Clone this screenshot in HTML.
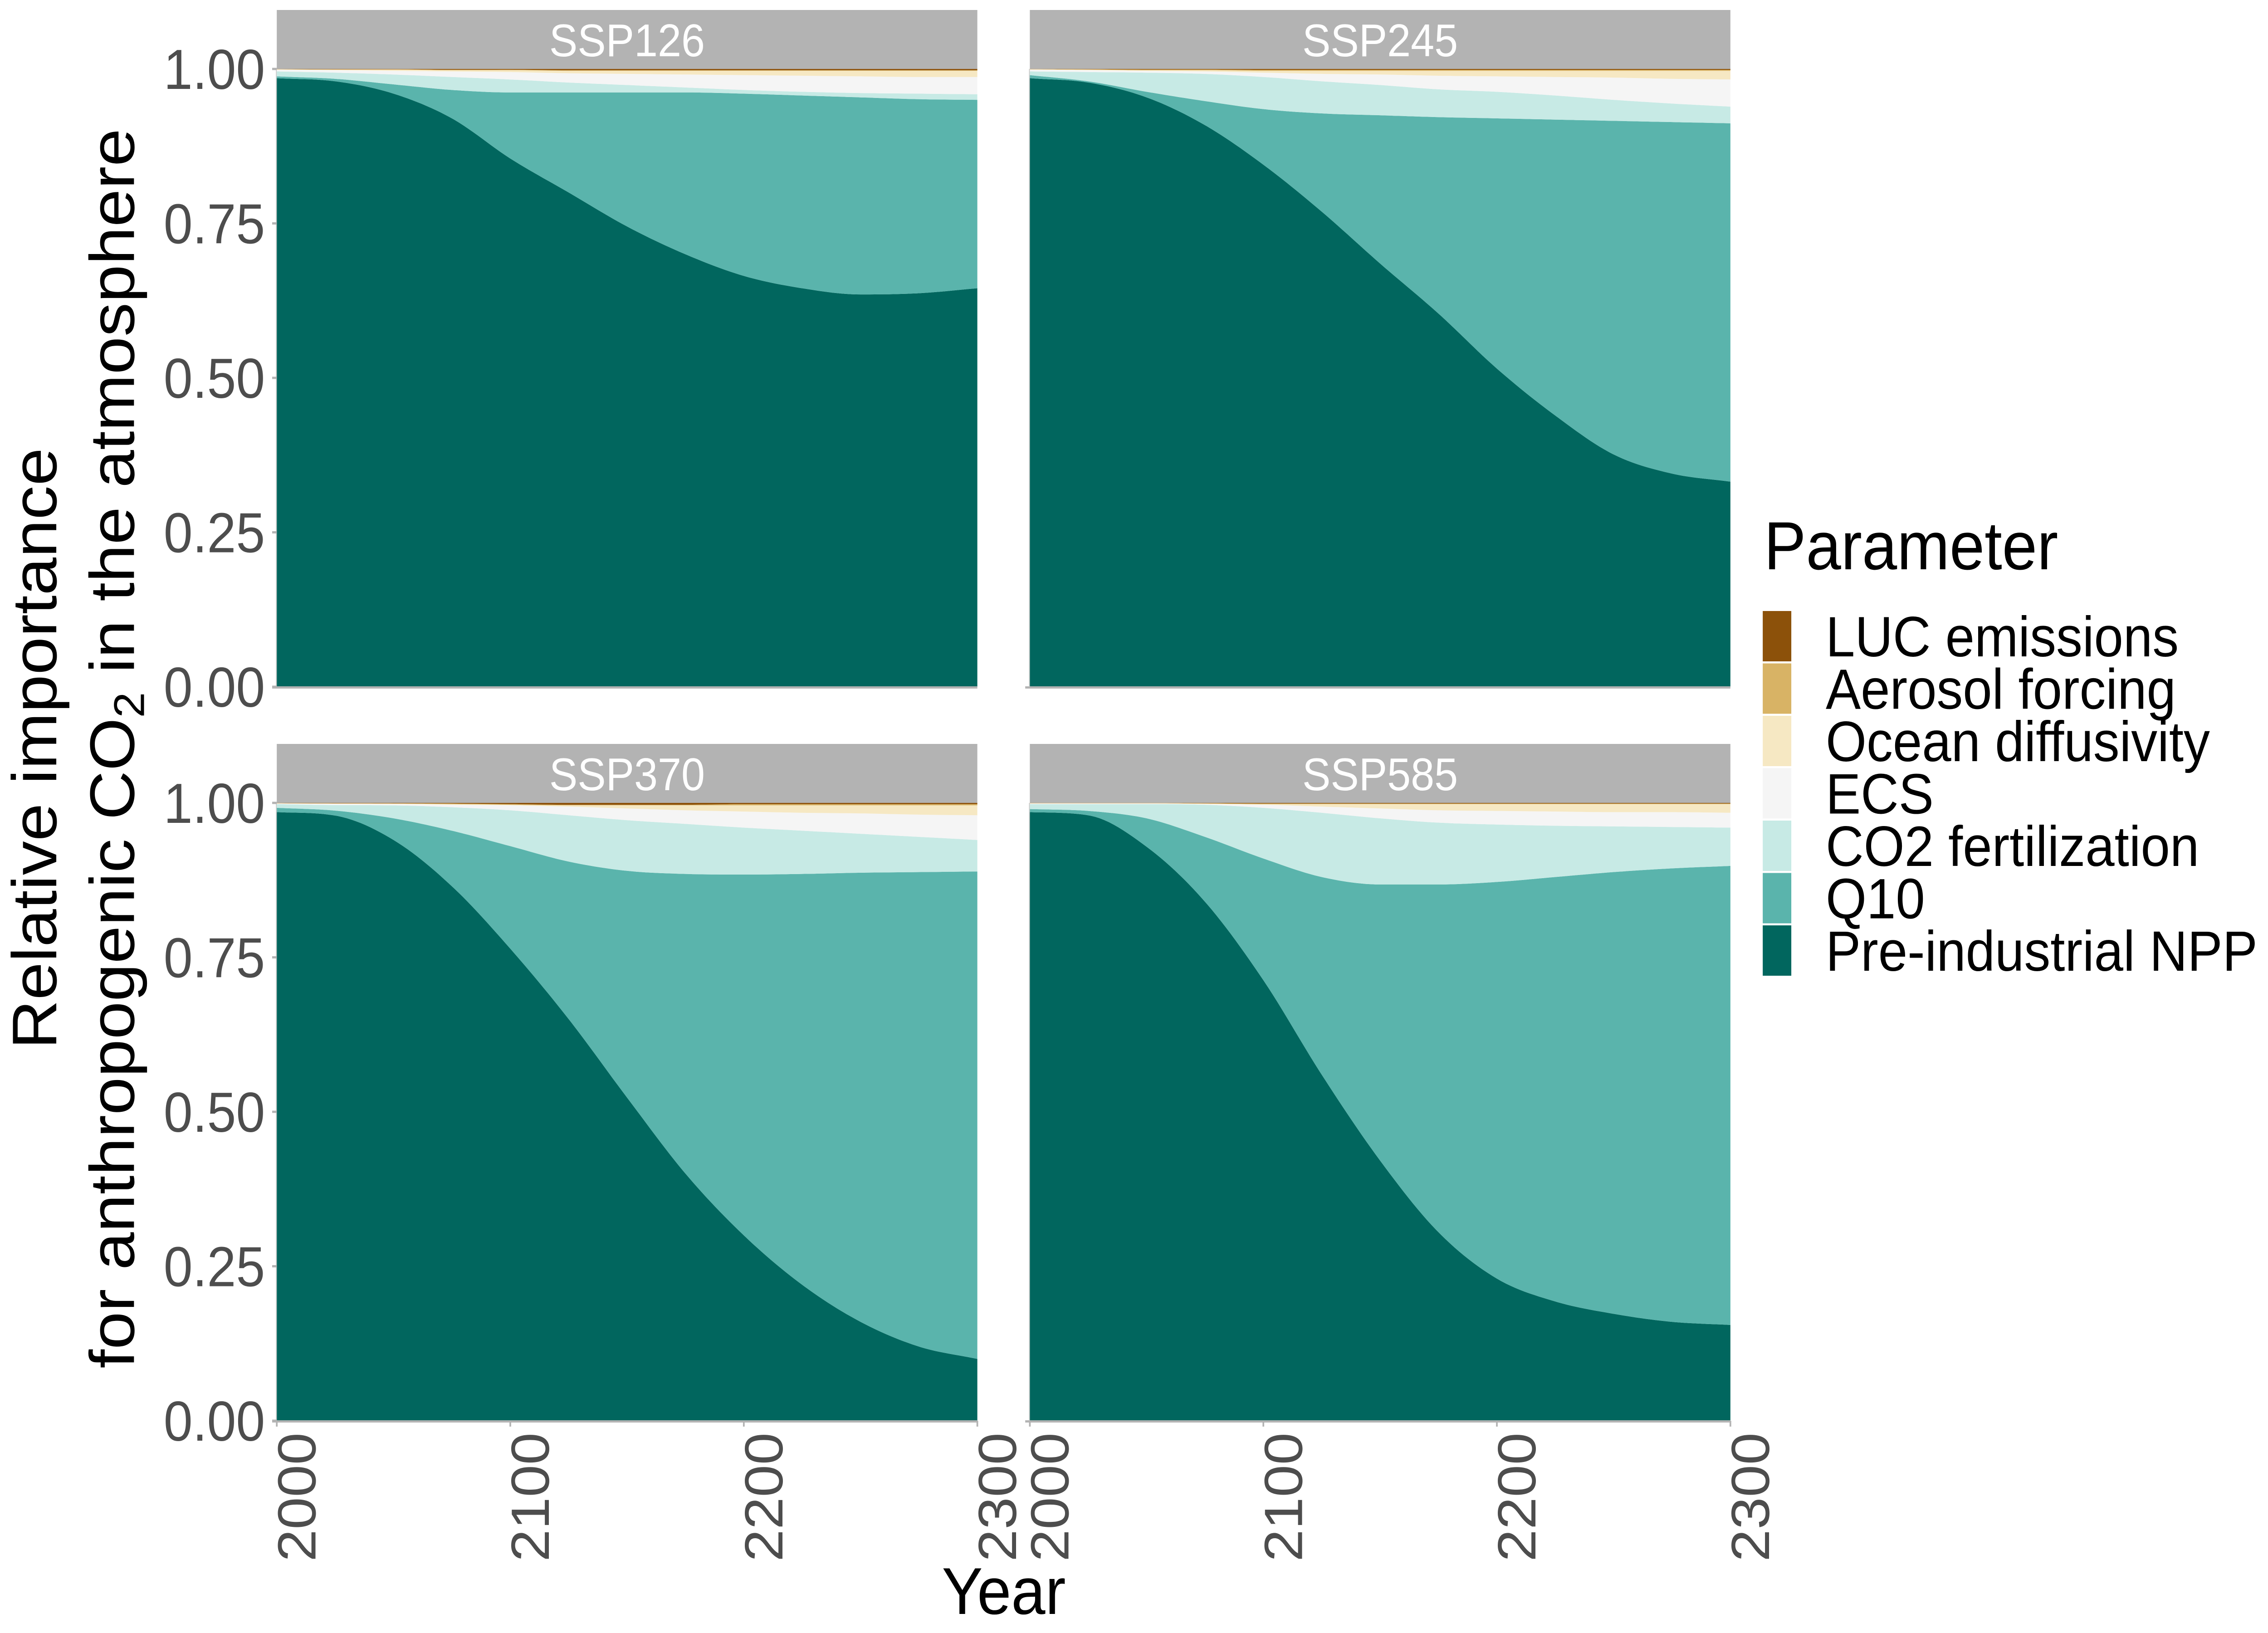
<!DOCTYPE html>
<html><head><meta charset="utf-8"><style>
html,body{margin:0;padding:0;background:#fff;overflow:hidden;width:100%;height:100%;}
svg{display:block;width:100vw;height:100vh;font-family:"Liberation Sans",Arial,sans-serif;}
</style></head><body>
<svg id="chart" xmlns="http://www.w3.org/2000/svg" viewBox="0 0 5400 3600" preserveAspectRatio="none">
<rect width="5400" height="3600" fill="#fff"/>
<g id="panels"></g>
<g transform="translate(134,1650) rotate(-90)" font-size="150" fill="#000" text-anchor="middle">
<text x="0" y="0">Relative importance</text>
<text x="0" y="185">for anthropogenic CO<tspan font-size="102" dy="24">2</tspan><tspan dy="-24"> in the atmosphere</tspan></text>
</g>
<text x="2390" y="3558" font-size="146" text-anchor="middle" fill="#000">Year</text>
<g id="legend">
<text x="4200" y="1255" font-size="150" fill="#000">Parameter</text>
</g>
</svg>
<script>
const years = [2000,2025,2050,2075,2100,2125,2150,2175,2200,2225,2250,2275,2300];
const scenarios = ['SSP126','SSP245','SSP370','SSP585'];
const params = ['Pre-industrial NPP','Q10','CO2 fertilization','ECS','Ocean diffusivity','Aerosol forcing','LUC emissions'];
const colors = ['#01665e','#5ab4ac','#c7eae5','#f5f5f5','#f6e8c3','#d8b365','#8c510a'];
const yTicks = [0,0.25,0.5,0.75,1];
const yTickLabels = ['0.00','0.25','0.50','0.75','1.00'];
const xTicks = [2000,2100,2200,2300];

// shares per parameter (bottom to top), per scenario
const ssp126_npp = [.985,.98,.96,.92,.855,.80,.745,.70,.665,.645,.635,.637,.645];
const ssp126_q10 = [.003,.004,.015,.046,.107,.162,.217,.262,.295,.312,.319,.314,.305];
const ssp126_co2 = [.008,.010,.016,.021,.021,.016,.012,.008,.006,.006,.007,.009,.009];
const ssp126_ecs = [.003,.004,.006,.009,.012,.015,.018,.021,.024,.026,.027,.027,.028];
const ssp126_ocean = [.0005,.001,.002,.002,.003,.004,.005,.006,.007,.008,.009,.010,.010];
const ssp126_aer = [.0003,.0004,.0005,.0007,.0008,.001,.001,.001,.001,.001,.001,.001,.001];
const ssp126_luc = [.0002,.0006,.0005,.0013,.0012,.002,.002,.002,.002,.002,.002,.002,.002];

const ssp245_npp = [.985,.978,.954,.909,.845,.769,.685,.604,.515,.439,.376,.345,.332];
const ssp245_q10 = [.005,.002,.009,.039,.09,.159,.24,.318,.405,.479,.54,.569,.58];
const ssp245_co2 = [.006,.015,.031,.044,.052,.052,.049,.045,.043,.039,.034,.030,.027];
const ssp245_ecs = [.003,.003,.003,.004,.007,.012,.017,.022,.025,.030,.036,.040,.044];
const ssp245_ocean = [.0005,.001,.001,.002,.003,.005,.006,.008,.009,.010,.011,.013,.014];
const ssp245_aer = [.0003,.0005,.001,.001,.0015,.0015,.0015,.0015,.0015,.0015,.0015,.0015,.0015];
const ssp245_luc = [.0002,.0005,.001,.001,.0015,.0015,.0015,.0015,.0015,.0015,.0015,.0015,.0015];

const ssp370_npp = [.985,.98,.94,.865,.764,.65,.523,.40,.30,.22,.16,.12,.10];
const ssp370_q10 = [.007,.008,.035,.09,.166,.255,.367,.485,.584,.665,.727,.768,.789];
const ssp370_co2 = [.006,.009,.021,.038,.058,.075,.082,.081,.076,.070,.063,.057,.051];
const ssp370_ecs = [.001,.002,.002,.004,.008,.014,.019,.022,.026,.029,.033,.036,.04];
const ssp370_ocean = [.0005,.0005,.001,.001,.001,.002,.005,.008,.010,.012,.013,.015,.016];
const ssp370_aer = [.0002,.0005,.0003,.001,.001,.001,.001,.001,.002,.002,.002,.002,.002];
const ssp370_luc = [.0003,.0005,.0007,.001,.002,.003,.003,.003,.002,.002,.002,.002,.002];

const ssp585_npp = [.985,.98,.929,.84,.713,.56,.421,.305,.23,.193,.173,.16,.155];
const ssp585_q10 = [.005,.007,.046,.105,.197,.32,.447,.563,.642,.687,.715,.734,.743];
const ssp585_co2 = [.008,.011,.023,.052,.082,.104,.107,.10,.093,.083,.074,.067,.062];
const ssp585_ecs = [.001,.001,.001,.001,.005,.01,.016,.02,.022,.023,.023,.024,.024];
const ssp585_ocean = [.0005,.0005,.0005,.001,.001,.004,.007,.010,.011,.012,.013,.013,.014];
const ssp585_aer = [.0003,.0003,.0003,.0005,.001,.001,.001,.001,.001,.001,.001,.001,.001];
const ssp585_luc = [.0002,.0002,.0002,.0005,.001,.001,.001,.001,.001,.001,.001,.001,.001];

const seriesByScenario = [
  [ssp126_npp,ssp126_q10,ssp126_co2,ssp126_ecs,ssp126_ocean,ssp126_aer,ssp126_luc],
  [ssp245_npp,ssp245_q10,ssp245_co2,ssp245_ecs,ssp245_ocean,ssp245_aer,ssp245_luc],
  [ssp370_npp,ssp370_q10,ssp370_co2,ssp370_ecs,ssp370_ocean,ssp370_aer,ssp370_luc],
  [ssp585_npp,ssp585_q10,ssp585_co2,ssp585_ecs,ssp585_ocean,ssp585_aer,ssp585_luc]
];

const NS = 'http://www.w3.org/2000/svg';
const layout = [
  {x0:659,x1:2327,y0:152,y1:1514,left:true,bottom:false},
  {x0:2452,x1:4120,y0:152,y1:1514,left:false,bottom:false},
  {x0:659,x1:2327,y0:1770,y1:3132,left:true,bottom:true},
  {x0:2452,x1:4120,y0:1770,y1:3132,left:false,bottom:true}
];
function mk(tag, attrs, parent){const e=document.createElementNS(NS,tag);for(const k in attrs)e.setAttribute(k,attrs[k]);parent.appendChild(e);return e;}

function monotone(xs, ys){
  const n=xs.length, d=[], m=new Array(n);
  for(let i=0;i<n-1;i++) d.push((ys[i+1]-ys[i])/(xs[i+1]-xs[i]));
  m[0]=d[0]; m[n-1]=d[n-2];
  for(let i=1;i<n-1;i++){ m[i] = (d[i-1]*d[i]<=0)?0:(d[i-1]+d[i])/2; }
  for(let i=0;i<n-1;i++){
    if(d[i]===0){m[i]=0;m[i+1]=0;continue;}
    const a=m[i]/d[i], b=m[i+1]/d[i], s=a*a+b*b;
    if(s>9){const t=3/Math.sqrt(s); m[i]=t*a*d[i]; m[i+1]=t*b*d[i];}
  }
  return function(x){
    let i=0; while(i<n-2 && x>xs[i+1]) i++;
    const h=xs[i+1]-xs[i], t=(x-xs[i])/h, t2=t*t, t3=t2*t;
    return (2*t3-3*t2+1)*ys[i]+(t3-2*t2+t)*h*m[i]+(-2*t3+3*t2)*ys[i+1]+(t3-t2)*h*m[i+1];
  };
}

const panelsG = document.getElementById('panels');
scenarios.forEach((name, si) => {
  const L = layout[si];
  const xScale = v => L.x0 + (v-2000)/300*(L.x1-L.x0);
  const yScale = v => L.y1 - v*(L.y1-L.y0);
  const g = mk('g',{},panelsG);
  
  
  const series = seriesByScenario[si];
  const totals = years.map((_,j)=>series.reduce((s,a)=>s+a[j],0));
  const cum = [years.map(()=>0)];
  series.forEach((arr,k)=>{ cum.push(years.map((_,j)=>cum[k][j]+arr[j]/totals[j])); });
  const fns = cum.map(c=>monotone(years,c));
  const samples=[]; for(let yr=2000; yr<=2300; yr+=2) samples.push(yr);
  series.forEach((arr,k)=>{
    const lo=fns[k], hi=fns[k+1];
    let d='';
    samples.forEach((yr,i)=>{ d += (i?'L':'M') + xScale(yr).toFixed(1)+','+yScale(Math.min(1,hi(yr))).toFixed(1); });
    for(let i=samples.length-1;i>=0;i--){ const yr=samples[i]; d += 'L'+xScale(yr).toFixed(1)+','+yScale(k===0?0:Math.min(1,lo(yr))).toFixed(1); }
    d+='Z';
    const p = mk('path',{d:d,fill:colors[k]},g);
    
    
  });
  const strip = mk('rect',{x:L.x0,y:L.y0-130,width:L.x1-L.x0,height:130,fill:'#b3b3b3'},g);
  
  
  const st = mk('text',{x:(L.x0+L.x1)/2,y:L.y0-28,'font-size':101,fill:'#fff','text-anchor':'middle'},g);
  st.textContent = name;
  
  
  const ax = mk('line',{x1:L.x0-11,x2:L.x1,y1:L.y1+1.5,y2:L.y1+1.5,stroke:'#b3b3b3','stroke-width':5},g);
  
  
  const ay = mk('line',{x1:L.x0-1,x2:L.x0-1,y1:L.y0,y2:L.y1,stroke:'#c8c8c8','stroke-width':2},g);
  
  
  if(L.left){
    yTicks.forEach((v,i)=>{
      const tk = mk('line',{x1:L.x0-11,x2:L.x0,y1:yScale(v),y2:yScale(v),stroke:'#b3b3b3','stroke-width':5},g);
      
      
      const t = mk('text',{x:631,y:yScale(v)+44,'font-size':124,fill:'#4d4d4d','text-anchor':'end'},g);
      t.textContent = yTickLabels[i];
      
      
    });
  }
  if(L.bottom){
    xTicks.forEach(v=>{
      const x = xScale(v);
      const tk = mk('line',{x1:x,x2:x,y1:L.y1,y2:L.y1+13,stroke:'#b3b3b3','stroke-width':4},g);
      
      
      const t = mk('text',{x:0,y:0,'font-size':128,fill:'#4d4d4d','text-anchor':'end',transform:'translate('+(x+92)+','+(L.y1+26)+') rotate(-90)'},g);
      t.textContent = String(v);
      
      
    });
  }
});

const lg = document.getElementById('legend');
for(let i=0;i<params.length;i++){
  const k = params.length-1-i;
  const y = 1347 + i*115.5;
  const r = mk('rect',{x:4197,y:y,width:68,height:111,fill:colors[k]},lg);
  
  
  const t = mk('text',{x:4347,y:y+100,'font-size':125,fill:'#000'},lg);
  t.textContent = params[k];
  
  
}
</script>
</body></html>
